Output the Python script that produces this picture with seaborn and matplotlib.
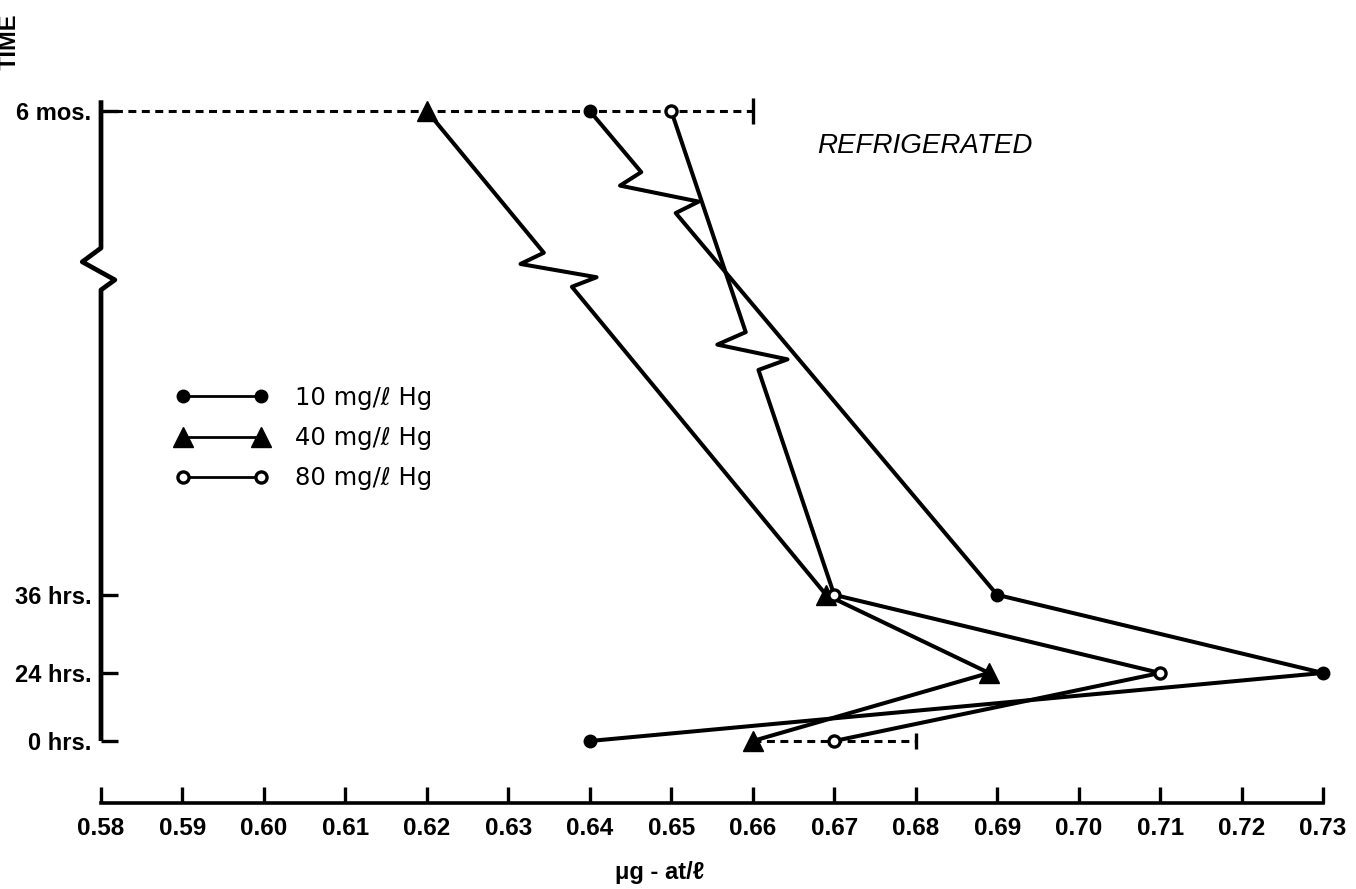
import matplotlib
matplotlib.use("Agg")
import matplotlib.pyplot as plt
from matplotlib.lines import Line2D
import pandas as pd
import seaborn as sns

# ---- data -----------------------------------------------------------------
time_labels = ["0 hrs.", "24 hrs.", "36 hrs.", "6 mos."]
series_labels = ["10 mg/ℓ Hg", "40 mg/ℓ Hg", "80 mg/ℓ Hg"]
hg_10 = [0.640, 0.730, 0.690, 0.640]
hg_40 = [0.660, 0.689, 0.669, 0.620]
hg_80 = [0.670, 0.710, 0.670, 0.650]

# dashed range bars at the first and the last sampling time
range_6mos = [0.58, 0.66]
range_0hrs = [0.66, 0.68]

x_ticks = [0.58, 0.59, 0.60, 0.61, 0.62, 0.63, 0.64, 0.65,
           0.66, 0.67, 0.68, 0.69, 0.70, 0.71, 0.72, 0.73]
x_tick_labels = ["0.58", "0.59", "0.60", "0.61", "0.62", "0.63", "0.64", "0.65",
                 "0.66", "0.67", "0.68", "0.69", "0.70", "0.71", "0.72", "0.73"]

# ---- layout ---------------------------------------------------------------
# vertical position of each time row on the broken (non-linear) time axis
ROW_Y = [0.0, 0.108, 0.232, 1.0]
# vertical span of the break symbol drawn in each series' last segment
BREAKS = [(0.838, 0.903), (0.721, 0.775), (0.589, 0.649)]
AXIS_BREAK = (0.716, 0.7825)
LINE_W = 2.9
INK = "black"

sns.set_style("white")
plt.rcParams["font.family"] = ["Liberation Sans Narrow", "Liberation Sans", "DejaVu Sans"]
for key in ["text.color", "axes.labelcolor", "xtick.color", "ytick.color"]:
    plt.rcParams[key] = INK

W, H = 1356, 889
fig = plt.figure(figsize=(W / 100, H / 100), dpi=100)
fig.patch.set_facecolor("white")
ax = fig.add_axes([101 / W, (H - 741) / H, 1222 / W, 630 / H])
ax.set_xlim(0.58, 0.73)
ax.set_ylim(0.0, 1.0)
ax.set_facecolor("white")


def broken_path(xs, ys, brk, jog=(0.004, 0.004), at=(0.33, 0.72)):
    """Return the polyline through (xs, ys) with a zigzag break inserted
    into the last segment between heights brk[0] and brk[1]."""
    x0, y0, x1, y1 = xs[-2], ys[-2], xs[-1], ys[-1]

    def x_on(y):
        return x0 + (x1 - x0) * (y - y0) / (y1 - y0)

    lo, hi = brk
    y_zig = hi - at[0] * (hi - lo)
    y_zag = hi - at[1] * (hi - lo)
    px = list(xs[:-1]) + [x_on(lo), x_on(y_zag) + jog[1], x_on(y_zig) - jog[0], x_on(hi), x1]
    py = list(ys[:-1]) + [lo, y_zag, y_zig, hi, y1]
    return px, py


# ---- dashed range bars ----------------------------------------------------
dash = (0, (2.6, 1.8))
ax.plot(range_6mos, [ROW_Y[3]] * 2, color=INK, lw=2.2, ls=dash, clip_on=False, zorder=2)
ax.plot(range_0hrs, [ROW_Y[0]] * 2, color=INK, lw=2.2, ls=dash, clip_on=False, zorder=2)
ax.plot([range_6mos[1]], [ROW_Y[3]], marker="|", ms=19, mew=2.4, color=INK, clip_on=False, zorder=2)
ax.plot([range_0hrs[1]], [ROW_Y[0]], marker="|", ms=12, mew=2.4, color=INK, clip_on=False, zorder=2)

# ---- series lines (with break) and markers --------------------------------
styles = [
    dict(marker="o", ms=9.0, mfc=INK, mec=INK, mew=1.0),
    dict(marker="^", ms=14.0, mfc=INK, mec=INK, mew=1.0),
    dict(marker="o", ms=8.0, mfc="white", mec=INK, mew=2.4),
]
for vals, brk, st in zip([hg_10, hg_40, hg_80], BREAKS, styles):
    px, py = broken_path(vals, ROW_Y, brk)
    path = pd.DataFrame({"x": px, "y": py})
    sns.lineplot(data=path, x="x", y="y", sort=False, estimator=None, ax=ax,
                 color=INK, lw=LINE_W, zorder=3)
    ax.lines[-1].set_clip_on(False)
    ax.plot(vals, ROW_Y, ls="none", clip_on=False, zorder=4, **st)

# ---- broken vertical time axis --------------------------------------------
axx, axy = broken_path([0.58, 0.58], [0.0, 1.017], AXIS_BREAK,
                       jog=(0.0023, 0.0017), at=(0.33, 0.76))
ax.plot(axx, axy, color=INK, lw=3.4, clip_on=False, zorder=5, solid_capstyle="butt")

# ---- axes styling ---------------------------------------------------------
for side in ["top", "right", "left"]:
    ax.spines[side].set_visible(False)
ax.spines["bottom"].set_position(("outward", 44.6))
ax.spines["bottom"].set_bounds(0.58, 0.73)
ax.spines["bottom"].set_linewidth(2.6)
ax.spines["bottom"].set_color(INK)

ax.set_xticks(x_ticks)
ax.set_xticklabels(x_tick_labels)
ax.set_yticks(ROW_Y)
ax.set_yticklabels(time_labels)
ax.tick_params(axis="x", bottom=True, direction="in", length=11.5, width=2.4,
               color=INK, labelcolor=INK, pad=10, labelsize=17.5)
ax.tick_params(axis="y", left=True, direction="in", length=12.5, width=2.4,
               color=INK, labelcolor=INK, pad=7, labelsize=17)
for lab in ax.get_xticklabels() + ax.get_yticklabels():
    lab.set_fontweight("bold")
ax.set_xlabel("")
ax.set_ylabel("")
ax.grid(False)

# ---- texts ----------------------------------------------------------------
fig.text(660 / W, 1 - 872 / H, "μg - at/ℓ", ha="center", va="center", color=INK,
         fontsize=17, fontweight="bold", family=["Liberation Sans", "DejaVu Sans"])
fig.text(9 / W, 1 - 42 / H, "TIME", ha="center", va="center", rotation=90, color=INK,
         fontsize=17, fontweight="bold", family=["Liberation Sans", "DejaVu Sans"])
fig.text(925 / W, 1 - 146 / H, "REFRIGERATED", ha="center", va="center", color=INK,
         fontsize=20, style="italic", family=["Liberation Sans", "DejaVu Sans"])

# ---- legend ---------------------------------------------------------------
handles = [Line2D([], [], color=INK, lw=2.0, **st) for st in styles]
leg = ax.legend(handles, series_labels, loc="upper left",
                bbox_to_anchor=(176 / W, 1 - 386 / H), bbox_transform=fig.transFigure,
                frameon=False, numpoints=2, handlelength=3.8, handletextpad=1.1,
                labelspacing=0.66, borderpad=0, borderaxespad=0,
                prop={"family": "DejaVu Sans", "size": 17.5})
for t in leg.get_texts():
    t.set_color(INK)

fig.savefig("out.png", dpi=100, facecolor="white")
